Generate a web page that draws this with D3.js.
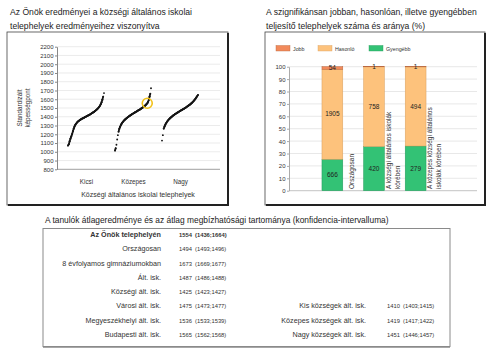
<!DOCTYPE html>
<html>
<head>
<meta charset="utf-8">
<script src="https://cdn.jsdelivr.net/npm/d3@7"></script>
<style>
  body { margin: 0; background: #fff; }
  svg { font-family: "Liberation Sans", Arial, sans-serif; }
</style>
</head>
<body>
<svg id="chart" width="495" height="352"></svg>
<script>
// ---- data: left panel (school site results, sorted) ----
const schoolCats = ["Kicsi", "Közepes", "Nagy"];
const kicsiScores = [1072, 1085, 1120, 1150, 1175, 1200, 1235, 1265, 1290, 1308, 1322, 1334, 1344, 1352, 1359,
  1365, 1371, 1377, 1382, 1387, 1392, 1397, 1402, 1407, 1412, 1417, 1422, 1427, 1433, 1439, 1445, 1451, 1458,
  1465, 1473, 1481, 1490, 1500, 1512, 1526, 1543, 1565, 1595, 1630, 1670];
const kozepesScores = [1015, 1040, 1080, 1140, 1190, 1230, 1262, 1285, 1303, 1318, 1331, 1342, 1352, 1361, 1369,
  1376, 1383, 1390, 1396, 1402, 1408, 1414, 1419, 1425, 1430, 1436, 1441, 1446, 1451, 1456, 1461, 1466, 1471,
  1476, 1481, 1486, 1491, 1497, 1503, 1509, 1515, 1522, 1529, 1537, 1546, 1556, 1572, 1595, 1630, 1662, 1725];
const nagyScores = [1128, 1190, 1265, 1290, 1312, 1330, 1345, 1358, 1370, 1380, 1389, 1398, 1406, 1414, 1421,
  1428, 1435, 1441, 1447, 1453, 1459, 1465, 1471, 1477, 1483, 1489, 1495, 1501, 1507, 1514, 1521, 1528, 1535,
  1543, 1551, 1560, 1570, 1581, 1593, 1606, 1620, 1634, 1648];
const ownScore = 1554;
const ownCat = "Közepes";
const scoreTicks = [800, 900, 1000, 1100, 1200, 1300, 1400, 1500, 1600, 1700, 1800, 1900, 2000, 2100, 2200];

// ---- data: right panel (stacked percentages) ----
const barCats = ["orszagos", "kozsegi", "kozepes"];
const barLabelLines = [["Országosan"], ["A községi általános iskolák", "körében"], ["A közepes községi általános", "iskolák körében"]];
const jobbCounts = [54, 1, 1];
const hasonloCounts = [1905, 758, 494];
const gyengebbCounts = [666, 420, 279];
const levelNames = ["Jobb", "Hasonló", "Gyengébb"];
const pctTicks = [0, 10, 20, 30, 40, 50, 60, 70, 80, 90, 100];

// ---- data: table ----
const rowLabels = ["Az Önök telephelyén", "Országosan", "8 évfolyamos gimnáziumokban", "Ált. isk.",
  "Községi ált. isk.", "Városi ált. isk.", "Megyeszékhelyi ált. isk.", "Budapesti ált. isk."];
const rowMeans = [1554, 1494, 1673, 1487, 1425, 1475, 1536, 1565];
const rowLow = [1436, 1493, 1669, 1486, 1423, 1473, 1533, 1562];
const rowHigh = [1664, 1496, 1677, 1488, 1427, 1477, 1539, 1568];
const sideLabels = ["Kis községek ált. isk.", "Közepes községek ált. isk.", "Nagy községek ált. isk."];
const sideMeans = [1410, 1419, 1451];
const sideLow = [1403, 1417, 1446];
const sideHigh = [1415, 1422, 1457];

const svg = d3.select("#chart");
const textCol = "#222";

// panel frames with a dark drop edge
function frame(x, y, w, h) {
  svg.append("rect").attr("x", x).attr("y", y).attr("width", w).attr("height", h)
    .attr("fill", "none").attr("stroke", "#444").attr("stroke-width", 0.8);
  svg.append("path").attr("d", `M${x + w},${y + 1}V${y + h}H${x + 1}`)
    .attr("fill", "none").attr("stroke", "#222").attr("stroke-width", 2);
}

// ================= left panel =================
svg.append("text").attr("x", 10).attr("y", 15).attr("font-size", 8.6).attr("fill", textCol)
  .text("Az Önök eredményei a községi általános iskolai");
svg.append("text").attr("x", 10).attr("y", 29).attr("font-size", 8.6).attr("fill", textCol)
  .text("telephelyek eredményeihez viszonyítva");
frame(7, 32, 221, 173);

const left = svg.append("g");
const yS = d3.scaleLinear().domain([800, 2200]).range([169.3, 46.7]);
const xCat = d3.scaleBand().domain(schoolCats).range([63, 204]);

left.append("g").selectAll("line").data(scoreTicks.slice(1)).join("line")
  .attr("x1", 57).attr("x2", 220).attr("y1", d => yS(d)).attr("y2", d => yS(d))
  .attr("stroke", "#e2e2e2").attr("stroke-width", 0.7);

const yAx = left.append("g").attr("transform", "translate(57,0)")
  .call(d3.axisLeft(yS).tickValues(scoreTicks).tickFormat(d3.format("d")).tickSize(2).tickPadding(1.5).tickSizeOuter(0));
yAx.select(".domain").attr("stroke", "#888");
yAx.selectAll(".tick line").attr("stroke", "#888");
yAx.selectAll("text").attr("font-size", 6).attr("fill", "#333").attr("font-family", null);

left.append("line").attr("x1", 57).attr("x2", 220).attr("y1", yS(800)).attr("y2", yS(800))
  .attr("stroke", "#888").attr("stroke-width", 0.8);

const seriesByCat = { "Kicsi": kicsiScores, "Közepes": kozepesScores, "Nagy": nagyScores };
const innerX = {};
schoolCats.forEach(c => {
  const vals = seriesByCat[c];
  const sx = d3.scaleLinear().domain([0, vals.length - 1]).range([xCat(c) + 5, xCat(c) + 41]);
  innerX[c] = sx;
  // dense points read as a thick dotted curve: join neighbours that are close
  const segs = d3.pairs(vals.map((v, i) => [sx(i), yS(v)])).filter(([a, b]) => Math.abs(a[1] - b[1]) < 3.2);
  left.append("g").selectAll("line").data(segs).join("line")
    .attr("x1", d => d[0][0]).attr("y1", d => d[0][1]).attr("x2", d => d[1][0]).attr("y2", d => d[1][1])
    .attr("stroke", "#151515").attr("stroke-width", 1.8).attr("stroke-linecap", "round");
  left.append("g").selectAll("circle").data(vals).join("circle")
    .attr("cx", (d, i) => sx(i)).attr("cy", d => yS(d)).attr("r", 0.95).attr("fill", "#151515");
});

// own school marker
{
  const vals = seriesByCat[ownCat];
  const i = d3.bisectLeft(vals, ownScore);
  const pos = i - 1 + (ownScore - vals[i - 1]) / (vals[i] - vals[i - 1]);
  left.append("circle").attr("cx", innerX[ownCat](pos)).attr("cy", yS(ownScore)).attr("r", 5)
    .attr("fill", "none").attr("stroke", "#f2c21b").attr("stroke-width", 1.6);
}

left.append("g").selectAll("text").data(schoolCats).join("text")
  .attr("x", d => xCat(d) + xCat.bandwidth() / 2).attr("y", 184).attr("text-anchor", "middle")
  .attr("font-size", 6.3).attr("fill", "#333").text(d => d);
left.append("text").attr("x", 138).attr("y", 196.5).attr("text-anchor", "middle")
  .attr("font-size", 7).attr("fill", "#333").text("Községi általános iskolai telephelyek");
left.append("text").attr("transform", "translate(22,108) rotate(-90)").attr("text-anchor", "middle")
  .attr("font-size", 6.3).attr("fill", "#333")
  .selectAll("tspan").data(["Standardizált", "képességpont"]).join("tspan")
  .attr("x", 0).attr("dy", (d, i) => i ? 7.5 : 0).text(d => d);

// ================= right panel =================
svg.append("text").attr("x", 266).attr("y", 15).attr("font-size", 8.6).attr("fill", textCol)
  .text("A szignifikánsan jobban, hasonlóan, illetve gyengébben");
svg.append("text").attr("x", 266).attr("y", 29).attr("font-size", 8.6).attr("fill", textCol)
  .text("teljesítő telephelyek száma és aránya (%)");
frame(265, 32, 220, 173);

const right = svg.append("g");
const colors = { "Jobb": "#f28a5b", "Hasonló": "#fdc27c", "Gyengébb": "#33c275" };
const strokes = { "Jobb": "#b8653c", "Hasonló": "#d9a060", "Gyengébb": "#23995a" };

// legend
const legX = [276, 318, 369];
levelNames.forEach((n, i) => {
  right.append("rect").attr("x", legX[i]).attr("y", 45.5).attr("width", 14).attr("height", 5.5)
    .attr("fill", colors[n]).attr("stroke", strokes[n]).attr("stroke-width", 0.4);
  right.append("text").attr("x", legX[i] + 17).attr("y", 50.5).attr("font-size", 5.3).attr("fill", "#333").text(n);
});

const yP = d3.scaleLinear().domain([0, 100]).range([190.7, 66.7]);
const xB = d3.scaleBand().domain(barCats).range([292, 456]).paddingInner(0.5).paddingOuter(0.72);

right.append("g").selectAll("line").data(pctTicks.slice(1)).join("line")
  .attr("x1", 289).attr("x2", 477).attr("y1", d => yP(d)).attr("y2", d => yP(d))
  .attr("stroke", "#dedede").attr("stroke-width", 0.7);
right.append("line").attr("x1", 289).attr("x2", 477).attr("y1", yP(0)).attr("y2", yP(0))
  .attr("stroke", "#aaa").attr("stroke-width", 0.7);
const pAx = right.append("g").attr("transform", "translate(289,0)")
  .call(d3.axisLeft(yP).tickValues(pctTicks).tickSize(2).tickPadding(1.5).tickSizeOuter(0));
pAx.select(".domain").attr("stroke", "#aaa");
pAx.selectAll(".tick line").attr("stroke", "#aaa");
pAx.selectAll("text").attr("font-size", 6).attr("fill", "#333").attr("font-family", null);

const barRows = barCats.map((c, i) => ({ cat: c, Gyengébb: gyengebbCounts[i], Hasonló: hasonloCounts[i], Jobb: jobbCounts[i] }));
const stackOrder = ["Gyengébb", "Hasonló", "Jobb"];
const stacked = d3.stack().keys(stackOrder).offset(d3.stackOffsetExpand)(barRows);

stacked.forEach(layer => {
  const g = right.append("g");
  g.selectAll("rect").data(layer).join("rect")
    .attr("x", d => xB(d.data.cat)).attr("width", xB.bandwidth())
    .attr("y", d => yP(d[1] * 100)).attr("height", d => yP(d[0] * 100) - yP(d[1] * 100))
    .attr("fill", colors[layer.key]).attr("stroke", strokes[layer.key]).attr("stroke-width", 0.5);
  g.selectAll("text").data(layer).join("text")
    .attr("x", d => xB(d.data.cat) + xB.bandwidth() / 2)
    .attr("y", d => (yP(d[0] * 100) + yP(d[1] * 100)) / 2 + 2.2)
    .attr("text-anchor", "middle").attr("font-size", 6.5).attr("fill", "#222")
    .text(d => d.data[layer.key]);
});

// rotated category labels next to each bar
barCats.forEach((c, i) => {
  const lines = barLabelLines[i];
  const cx = xB(c) + xB.bandwidth() + 8.5 - (lines.length - 1) * 4.5 + 2.3;
  right.append("text").attr("transform", `translate(${cx},189) rotate(-90)`)
    .attr("font-size", 6.5).attr("fill", "#333")
    .selectAll("tspan").data(lines).join("tspan")
    .attr("x", 0).attr("dy", (d, j) => j ? 9 : 0).text(d => d);
});

// ================= table =================
svg.append("text").attr("x", 45).attr("y", 223).attr("font-size", 8.4).attr("fill", textCol)
  .text("A tanulók átlageredménye és az átlag megbízhatósági tartománya (konfidencia-intervalluma)");
svg.append("rect").attr("x", 43).attr("y", 228.5).attr("width", 407).attr("height", 118)
  .attr("fill", "none").attr("stroke", "#8a8a8a").attr("stroke-width", 1);
svg.append("line").attr("x1", 43).attr("x2", 450).attr("y1", 347).attr("y2", 347)
  .attr("stroke", "#8a8a8a").attr("stroke-width", 1.5);

const rowY = d3.scalePoint().domain(d3.range(rowLabels.length)).range([237, 337]);
const table = svg.append("g").attr("font-size", 7.2).attr("fill", "#333");
rowLabels.forEach((lab, i) => {
  const w = i === 0 ? "bold" : null;
  table.append("text").attr("x", 161).attr("y", rowY(i)).attr("text-anchor", "end").attr("font-weight", w).text(lab);
  table.append("text").attr("x", 179).attr("y", rowY(i)).attr("font-weight", w).attr("font-size", 5.8).text(rowMeans[i]);
  table.append("text").attr("x", 195).attr("y", rowY(i)).attr("font-weight", w).attr("font-size", 5.8)
    .text(`(${rowLow[i]};${rowHigh[i]})`);
});
const off = rowLabels.length - sideLabels.length;
sideLabels.forEach((lab, k) => {
  const i = k + off;
  table.append("text").attr("x", 366).attr("y", rowY(i)).attr("text-anchor", "end").text(lab);
  table.append("text").attr("x", 387).attr("y", rowY(i)).attr("font-size", 5.8).text(sideMeans[k]);
  table.append("text").attr("x", 403).attr("y", rowY(i)).attr("font-size", 5.8)
    .text(`(${sideLow[k]};${sideHigh[k]})`);
});
</script>
</body>
</html>
